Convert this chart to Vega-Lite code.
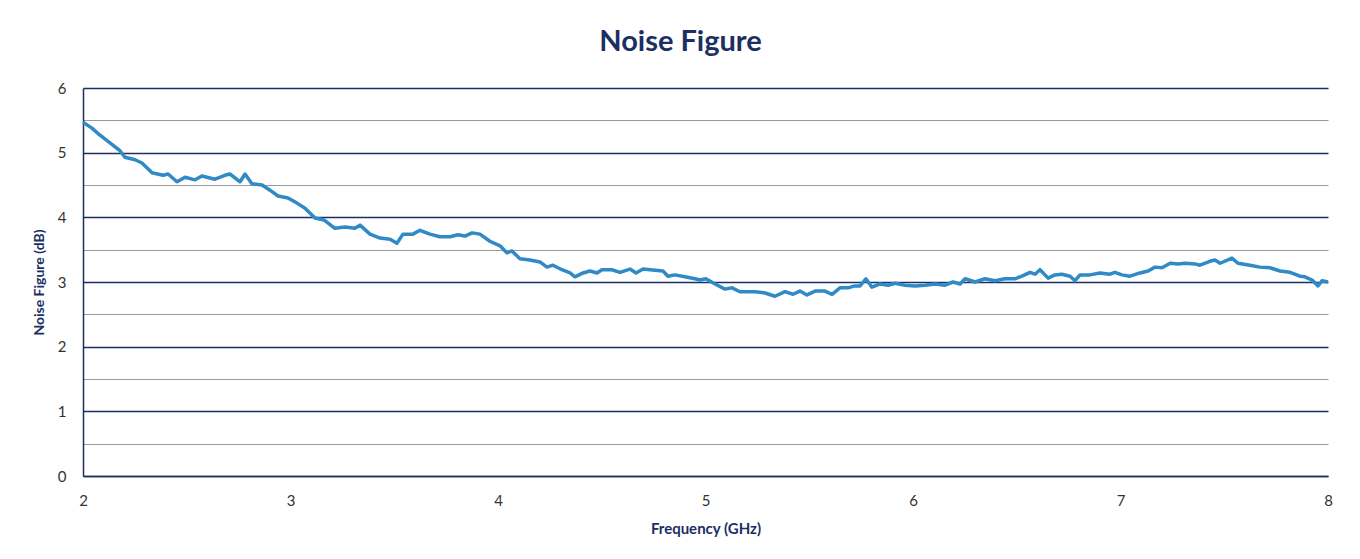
{
  "$schema": "https://vega.github.io/schema/vega-lite/v6.json",
  "autosize": {"type": "none"},
  "width": 1245,
  "height": 388,
  "padding": {"left": 83, "top": 88, "right": 32, "bottom": 83},
  "background": "white",
  "title": {"text": "Noise Figure", "font": "Lato", "fontSize": 29, "fontWeight": "bold", "color": "#1b2f63", "offset": 24, "anchor": "middle", "dx": -25},
  "config": {"view": {"stroke": null}},
  "data": {"values": [
    {"f":2.000,"nf":5.47},{"f":2.043,"nf":5.38},{"f":2.082,"nf":5.27},{"f":2.130,"nf":5.15},{"f":2.178,"nf":5.03},
    {"f":2.202,"nf":4.93},{"f":2.251,"nf":4.89},{"f":2.284,"nf":4.84},{"f":2.333,"nf":4.69},{"f":2.386,"nf":4.65},
    {"f":2.410,"nf":4.67},{"f":2.453,"nf":4.55},{"f":2.492,"nf":4.62},{"f":2.540,"nf":4.58},{"f":2.573,"nf":4.64},
    {"f":2.636,"nf":4.59},{"f":2.684,"nf":4.65},{"f":2.708,"nf":4.67},{"f":2.757,"nf":4.55},{"f":2.781,"nf":4.67},
    {"f":2.814,"nf":4.52},{"f":2.863,"nf":4.50},{"f":2.901,"nf":4.42},{"f":2.940,"nf":4.33},{"f":2.988,"nf":4.30},
    {"f":3.031,"nf":4.22},{"f":3.070,"nf":4.14},{"f":3.118,"nf":3.99},{"f":3.161,"nf":3.96},{"f":3.214,"nf":3.83},
    {"f":3.263,"nf":3.85},{"f":3.311,"nf":3.83},{"f":3.335,"nf":3.88},{"f":3.383,"nf":3.74},{"f":3.431,"nf":3.68},
    {"f":3.480,"nf":3.66},{"f":3.513,"nf":3.60},{"f":3.542,"nf":3.74},{"f":3.590,"nf":3.74},{"f":3.624,"nf":3.80},
    {"f":3.672,"nf":3.74},{"f":3.720,"nf":3.70},{"f":3.769,"nf":3.70},{"f":3.807,"nf":3.73},{"f":3.841,"nf":3.71},
    {"f":3.875,"nf":3.76},{"f":3.913,"nf":3.74},{"f":3.961,"nf":3.63},{"f":4.010,"nf":3.56},{"f":4.043,"nf":3.45},
    {"f":4.067,"nf":3.48},{"f":4.106,"nf":3.36},{"f":4.154,"nf":3.34},{"f":4.202,"nf":3.31},{"f":4.236,"nf":3.23},
    {"f":4.265,"nf":3.26},{"f":4.308,"nf":3.19},{"f":4.347,"nf":3.14},{"f":4.371,"nf":3.08},{"f":4.410,"nf":3.14},
    {"f":4.443,"nf":3.17},{"f":4.477,"nf":3.14},{"f":4.501,"nf":3.19},{"f":4.549,"nf":3.19},{"f":4.588,"nf":3.15},
    {"f":4.636,"nf":3.20},{"f":4.665,"nf":3.14},{"f":4.699,"nf":3.20},{"f":4.733,"nf":3.19},{"f":4.795,"nf":3.17},
    {"f":4.819,"nf":3.09},{"f":4.853,"nf":3.11},{"f":4.901,"nf":3.08},{"f":4.949,"nf":3.05},{"f":4.973,"nf":3.03},
    {"f":5.002,"nf":3.05},{"f":5.046,"nf":2.97},{"f":5.094,"nf":2.89},{"f":5.128,"nf":2.91},{"f":5.166,"nf":2.85},
    {"f":5.239,"nf":2.85},{"f":5.287,"nf":2.83},{"f":5.335,"nf":2.78},{"f":5.383,"nf":2.85},{"f":5.422,"nf":2.81},
    {"f":5.455,"nf":2.86},{"f":5.489,"nf":2.80},{"f":5.528,"nf":2.86},{"f":5.576,"nf":2.86},{"f":5.610,"nf":2.81},
    {"f":5.648,"nf":2.91},{"f":5.687,"nf":2.91},{"f":5.720,"nf":2.94},{"f":5.745,"nf":2.94},{"f":5.773,"nf":3.05},
    {"f":5.802,"nf":2.92},{"f":5.841,"nf":2.97},{"f":5.880,"nf":2.95},{"f":5.913,"nf":2.98},{"f":5.961,"nf":2.95},
    {"f":6.010,"nf":2.94},{"f":6.058,"nf":2.95},{"f":6.106,"nf":2.97},{"f":6.154,"nf":2.95},{"f":6.193,"nf":3.00},
    {"f":6.227,"nf":2.97},{"f":6.251,"nf":3.05},{"f":6.299,"nf":3.00},{"f":6.347,"nf":3.05},{"f":6.395,"nf":3.02},
    {"f":6.443,"nf":3.05},{"f":6.492,"nf":3.05},{"f":6.525,"nf":3.09},{"f":6.564,"nf":3.15},{"f":6.588,"nf":3.12},
    {"f":6.612,"nf":3.19},{"f":6.651,"nf":3.06},{"f":6.684,"nf":3.11},{"f":6.718,"nf":3.12},{"f":6.757,"nf":3.09},
    {"f":6.781,"nf":3.02},{"f":6.805,"nf":3.11},{"f":6.853,"nf":3.11},{"f":6.901,"nf":3.14},{"f":6.949,"nf":3.12},
    {"f":6.973,"nf":3.15},{"f":7.007,"nf":3.11},{"f":7.046,"nf":3.09},{"f":7.094,"nf":3.14},{"f":7.133,"nf":3.17},
    {"f":7.166,"nf":3.23},{"f":7.200,"nf":3.22},{"f":7.239,"nf":3.29},{"f":7.277,"nf":3.28},{"f":7.311,"nf":3.29},
    {"f":7.359,"nf":3.28},{"f":7.383,"nf":3.26},{"f":7.431,"nf":3.32},{"f":7.455,"nf":3.34},{"f":7.480,"nf":3.29},
    {"f":7.537,"nf":3.37},{"f":7.566,"nf":3.29},{"f":7.624,"nf":3.26},{"f":7.672,"nf":3.23},{"f":7.720,"nf":3.22},
    {"f":7.769,"nf":3.17},{"f":7.817,"nf":3.15},{"f":7.865,"nf":3.09},{"f":7.889,"nf":3.08},{"f":7.923,"nf":3.03},
    {"f":7.952,"nf":2.94},{"f":7.971,"nf":3.02},{"f":8.000,"nf":3.00}
  ]},
  "mark": {"type": "line", "color": "#2f8ac6", "strokeWidth": 3.5, "strokeJoin": "round"},
  "encoding": {
    "x": {
      "field": "f", "type": "quantitative",
      "scale": {"domain": [2, 8], "nice": false},
      "axis": {
        "title": "Frequency (GHz)", "values": [2, 3, 4, 5, 6, 7, 8], "format": "d", "labelFlush": false,
        "grid": false, "ticks": false, "domainColor": "#1b2f63", "domainWidth": 1.5,
        "labelFont": "Lato", "labelFontSize": 15, "labelColor": "#333333", "labelPadding": 17,
        "titleFont": "Lato", "titleFontSize": 15, "titleFontWeight": "bold", "titleColor": "#1b2f63", "titlePadding": 13
      }
    },
    "y": {
      "field": "nf", "type": "quantitative",
      "scale": {"domain": [0, 6], "nice": false},
      "axis": {
        "title": "Noise Figure (dB)", "values": [0, 0.5, 1, 1.5, 2, 2.5, 3, 3.5, 4, 4.5, 5, 5.5, 6],
        "labelExpr": "datum.value % 1 === 0 ? format(datum.value, 'd') : ''",
        "grid": true,
        "gridColor": {"condition": {"test": "datum.value % 1 === 0", "value": "#1b2f63"}, "value": "#9a9a9a"},
        "gridWidth": {"condition": {"test": "datum.value % 1 === 0", "value": 1.4}, "value": 1},
        "ticks": false, "domainColor": "#1b2f63", "domainWidth": 1.5,
        "labelFont": "Lato", "labelFontSize": 15, "labelColor": "#333333", "labelPadding": 17,
        "titleFont": "Lato", "titleFontSize": 14, "titleFontWeight": "bold", "titleColor": "#1b2f63", "titlePadding": 11
      }
    }
  }
}
